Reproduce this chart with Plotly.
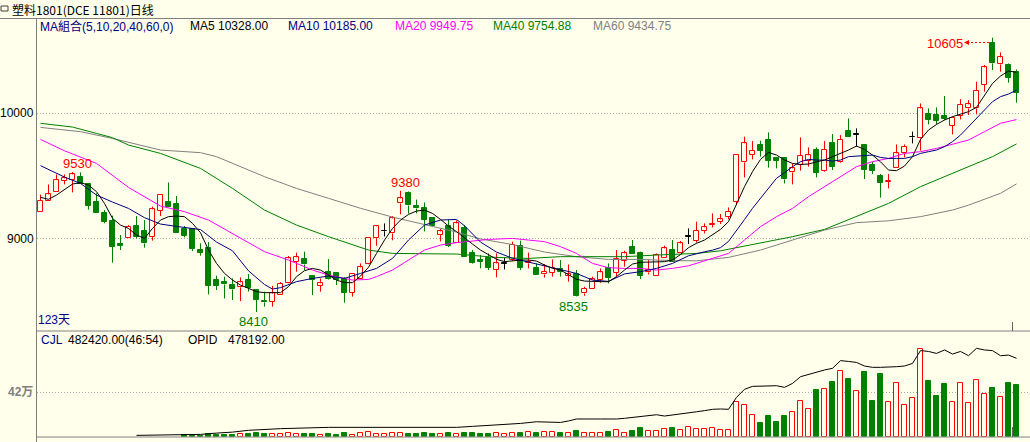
import plotly.graph_objects as go

# ---------------- data ----------------
open_ = [
    9207, 9298, 9367, 9461, 9466, 9493, 9431, 9287, 9199, 9140,
    8951, 8999, 9098, 9058, 9013, 9220, 9287, 9274, 9074, 9074,
    8906, 8925, 8666, 8647, 8626, 8607, 8666, 8586, 8498, 8493,
    8546, 8645, 8813, 8831, 8698, 8621, 8727, 8719, 8674, 8565,
    8674, 8793, 8999, 9055, 9039, 9279, 9359, 9258, 9239, 9159,
    9026, 9098, 8959, 9079, 8879, 8826, 8839, 8746, 8794, 8826,
    8941, 8799, 8759, 8711, 8725, 8751, 8701, 8714, 8559, 8591,
    8666, 8765, 8725, 8821, 8933, 8879, 8727, 8701, 8839, 8906,
    8879, 9013, 8982, 9058, 9109, 9133, 9173, 9293, 9607, 9666,
    9746, 9786, 9645, 9645, 9527, 9586, 9621, 9706, 9541, 9759,
    9613, 9858, 9826, 9746, 9586, 9498, 9450, 9559, 9679, 9807,
    9799, 9991, 9986, 9978, 9901, 9978, 10039, 10039, 10226, 10565,
    10391, 10386, 10333]
high = [
    9350, 9431, 9511, 9511, 9530, 9527, 9431, 9359, 9226, 9181,
    9026, 9106, 9178, 9146, 9253, 9346, 9447, 9338, 9098, 9074,
    8960, 8970, 8701, 8693, 8679, 8687, 8714, 8586, 8573, 8620,
    8650, 8858, 8885, 8893, 8700, 8679, 8834, 8725, 8690, 8711,
    8799, 9000, 9098, 9119, 9178, 9380, 9375, 9310, 9287, 9159,
    9075, 9148, 9143, 9106, 8906, 8866, 8879, 8879, 8847, 8973,
    8981, 8885, 8799, 8794, 8831, 8826, 8791, 8746, 8613, 8693,
    8759, 8799, 8906, 8901, 8986, 8893, 8826, 8879, 8941, 8986,
    8978, 9079, 9133, 9119, 9199, 9194, 9247, 9666, 9813, 9778,
    9781, 9847, 9645, 9645, 9599, 9807, 9727, 9727, 9778, 9834,
    9826, 9959, 9879, 9746, 9613, 9514, 9514, 9751, 9751, 9853,
    10079, 10039, 10047, 10138, 9973, 10114, 10106, 10253, 10386, 10605,
    10487, 10399, 10351]
low = [
    9207, 9298, 9367, 9431, 9367, 9431, 9230, 9199, 9120, 8805,
    8906, 8999, 8999, 8925, 8981, 9178, 9247, 9039, 9007, 8898,
    8861, 8551, 8586, 8519, 8506, 8498, 8573, 8410, 8453, 8453,
    8546, 8640, 8733, 8746, 8546, 8573, 8666, 8626, 8485, 8533,
    8674, 8791, 8940, 9015, 8984, 9192, 9197, 9199, 9055, 9095,
    8975, 8930, 8959, 8853, 8794, 8759, 8746, 8687, 8751, 8818,
    8746, 8759, 8706, 8685, 8693, 8693, 8653, 8535, 8540, 8591,
    8645, 8639, 8693, 8773, 8874, 8674, 8711, 8701, 8839, 8807,
    8879, 8954, 8965, 9039, 9087, 9114, 9151, 9266, 9487, 9631,
    9653, 9565, 9559, 9439, 9431, 9541, 9573, 9487, 9533, 9546,
    9605, 9807, 9733, 9474, 9514, 9325, 9399, 9559, 9647, 9759,
    9701, 9911, 9914, 9946, 9831, 9951, 9986, 9991, 10173, 10346,
    10333, 10245, 10085]
close = [
    9298, 9351, 9466, 9479, 9511, 9431, 9261, 9199, 9133, 8933,
    8938, 9093, 9010, 8959, 9231, 9346, 9247, 9039, 9021, 8914,
    8885, 8621, 8621, 8631, 8591, 8647, 8605, 8506, 8487, 8559,
    8634, 8839, 8847, 8791, 8666, 8639, 8671, 8666, 8565, 8711,
    8767, 8999, 9095, 9055, 9159, 9319, 9263, 9239, 9148, 9095,
    9055, 8940, 9119, 8853, 8799, 8813, 8765, 8799, 8794, 8946,
    8765, 8813, 8706, 8733, 8765, 8733, 8714, 8540, 8594, 8671,
    8727, 8685, 8831, 8879, 8874, 8701, 8746, 8866, 8919, 8807,
    8959, 9013, 9058, 9087, 9114, 9151, 9213, 9666, 9759, 9698,
    9701, 9621, 9621, 9471, 9559, 9658, 9663, 9525, 9706, 9573,
    9786, 9807, 9826, 9546, 9541, 9445, 9455, 9679, 9733, 9807,
    10039, 9946, 9941, 9954, 9965, 10066, 10071, 10178, 10367, 10399,
    10447, 10285, 10165]
volume = [
    0, 0, 0, 0, 0, 0, 0, 0, 0, 0,
    0, 0, 0, 0, 0, 0, 0, 0, 12000, 6000,
    6000, 25000, 12000, 12000, 15000, 22000, 22000, 31000, 22000, 22000,
    22000, 38000, 22000, 22000, 22000, 12000, 22000, 12000, 31000, 12000,
    31000, 44000, 22000, 22000, 31000, 31000, 22000, 22000, 31000, 22000,
    22000, 31000, 22000, 31000, 31000, 22000, 22000, 31000, 22000, 31000,
    31000, 41000, 31000, 41000, 41000, 31000, 31000, 53000, 31000, 31000,
    31000, 44000, 60000, 31000, 53000, 81000, 50000, 50000, 69000, 81000,
    60000, 88000, 69000, 69000, 78000, 60000, 60000, 323000, 294000, 200000,
    128000, 194000, 138000, 194000, 229000, 335000, 260000, 438000, 448000, 517000,
    614000, 542000, 429000, 608000, 335000, 589000, 323000, 504000, 294000, 360000,
    821000, 523000, 382000, 495000, 323000, 504000, 313000, 529000, 398000, 457000,
    370000, 504000, 482420]

ma5 = [
    9328, 9312, 9346, 9391, 9434, 9445, 9426, 9373, 9279, 9159,
    9106, 9079, 9026, 8999, 9079, 9146, 9173, 9178, 9173, 9119,
    9045, 8906, 8799, 8719, 8666, 8626, 8599, 8573, 8565, 8565,
    8565, 8613, 8693, 8741, 8759, 8746, 8706, 8666, 8645, 8645,
    8698, 8768, 8879, 8986, 9079, 9146, 9191, 9218, 9226, 9199,
    9151, 9098, 9053, 9007, 8954, 8906, 8866, 8832, 8813, 8821,
    8826, 8826, 8818, 8786, 8760, 8746, 8706, 8672, 8658, 8653,
    8653, 8653, 8693, 8746, 8794, 8808, 8810, 8813, 8813, 8826,
    8870, 8925, 8960, 8986, 9026, 9071, 9133, 9279, 9413, 9533,
    9631, 9687, 9666, 9626, 9599, 9591, 9594, 9612, 9626, 9653,
    9679, 9706, 9738, 9711, 9666, 9612, 9546, 9541, 9578, 9653,
    9791, 9866, 9911, 9946, 9973, 9994, 10013, 10047, 10138, 10239,
    10298, 10338, 10328]

ma10_day = [0, 3, 5, 7, 9, 11, 13, 15, 17, 19, 20, 22, 24, 26, 28, 29, 30, 32, 34, 36,
            38, 40, 41, 42, 44, 46, 48, 50, 52, 53, 55, 57, 59, 61, 63, 65, 67, 69, 71, 73,
            75, 77, 79, 81, 82, 83, 84, 85, 86, 87, 88, 89, 90, 91, 92, 93, 94, 95, 96, 97,
            98, 99, 100, 101, 102, 103, 104, 105, 106, 107, 108, 109, 110, 111, 112, 113,
            114, 115, 116, 117, 118, 119, 120, 121, 122]
ma10 = [9581, 9490, 9439, 9346, 9290, 9239, 9165, 9114, 9095, 9080, 9070, 8970, 8900, 8740,
        8630, 8594, 8605, 8653, 8679, 8698, 8679, 8719, 8740, 8759, 8839, 8986, 9106, 9146,
        9151, 9100, 8970, 8890, 8840, 8810, 8780, 8755, 8719, 8666, 8655, 8715, 8733, 8759,
        8799, 8860, 8879, 8892, 8905, 8925, 8975, 9060, 9150, 9240, 9320, 9400, 9480, 9525,
        9573, 9613, 9631, 9626, 9626, 9618, 9626, 9653, 9658, 9666, 9666, 9647, 9639, 9639,
        9639, 9653, 9679, 9693, 9706, 9733, 9773, 9826, 9893, 9959, 10026, 10093, 10133,
        10154, 10185]

ma20_day = [0, 3, 7, 11, 15, 18, 21, 24, 28, 31, 34, 36, 39, 41, 42, 44, 46, 48, 50, 52,
            56, 59, 61, 63, 65, 67, 69, 71, 73, 75, 77, 79, 81, 84, 86, 88, 90, 92, 94, 96,
            98, 100, 102, 104, 106, 108, 110, 112, 114, 116, 118, 120, 122]
ma20 = [9791, 9700, 9599, 9407, 9258, 9213, 9146, 9039, 8893, 8826, 8746, 8706, 8666, 8671,
        8693, 8746, 8826, 8906, 8946, 8965, 8991, 8999, 8986, 8973, 8933, 8879, 8799, 8765,
        8759, 8759, 8746, 8759, 8780, 8840, 8879, 8986, 9093, 9173, 9239, 9333, 9413, 9493,
        9573, 9613, 9639, 9679, 9693, 9719, 9754, 9786, 9853, 9920, 9950]

ma40_day = [0, 4, 7, 9, 11, 15, 20, 24, 28, 32, 36, 41, 44, 48, 52, 57, 61, 65, 69, 73,
            77, 82, 85, 90, 94, 98, 102, 104, 106, 110, 114, 117, 119, 122]
ma40 = [9920, 9890, 9839, 9805, 9746, 9679, 9559, 9399, 9226, 9106, 9013, 8906, 8879, 8874,
        8874, 8847, 8839, 8853, 8853, 8853, 8866, 8879, 8900, 8964, 9013, 9071, 9173, 9226,
        9279, 9413, 9519, 9599, 9653, 9755]

ma60_day = [0, 5, 9, 15, 20, 22, 28, 32, 36, 40, 44, 48, 52, 55, 59, 63, 67, 71, 75, 79,
            82, 86, 90, 94, 98, 102, 106, 110, 114, 116, 118, 120, 122]
ma60 = [9887, 9853, 9799, 9706, 9685, 9653, 9493, 9399, 9320, 9240, 9170, 9110, 9050, 8995,
        8950, 8890, 8853, 8831, 8831, 8821, 8820, 8847, 8906, 8986, 9066, 9125, 9140, 9173,
        9226, 9265, 9310, 9360, 9435]

opid_day = [12, 17, 20, 22, 24, 26, 28, 30, 36, 45, 52, 54, 57, 59, 60, 62, 64, 65, 66, 67,
            70, 71, 72, 73, 75, 76, 77, 78, 79, 80, 81, 82, 83, 84, 85, 86, 87, 88, 89, 90,
            91, 92, 93, 94, 95, 96, 97, 98, 99, 100, 101, 102, 103, 104, 105, 106, 107, 108,
            109, 110, 111, 112, 113, 114, 115, 116, 117, 118, 119, 120, 121, 122]
opid = [8100, 10000, 14000, 22000, 28000, 39000, 45000, 49000, 57000, 57000,
        57000, 63000, 71000, 77000, 81000, 91000, 91000, 87000, 96000, 108000,
        108000, 106000, 108000, 112000, 122000, 130000, 134000, 126000, 132000, 136000,
        144000, 152000, 159000, 167000, 169000, 167000, 240000, 289000, 307000, 307000,
        307000, 311000, 301000, 325000, 366000, 380000, 390000, 407000, 417000, 464000,
        459000, 453000, 431000, 423000, 423000, 423000, 427000, 431000, 447000, 525000,
        520000, 508000, 529000, 504000, 520000, 494000, 539000, 529000, 525000, 494000,
        498000, 478192]

# ---------------- styling ----------------
BG = '#FFFFEB'
RED = '#FF0000'
GREEN = '#008000'
NAVY = '#000080'
MAG = '#FF00FF'
GRAY = '#808080'
W, H = 1030, 442
FONT = 'Liberation Sans, Noto Sans CJK SC, sans-serif'


def PX(x):
    return x / W


def PY(y):
    return 1 - y / H


days = list(range(len(close)))
up = [i for i in days if close[i] > open_[i]]
dn = [i for i in days if close[i] < open_[i]]
dj = [i for i in days if close[i] == open_[i]]

fig = go.Figure()


def wick_trace(sel, color):
    xs, ys = [], []
    for i in sel:
        top = max(open_[i], close[i])
        bot = min(open_[i], close[i])
        if high[i] > top:
            xs += [i, i, None]
            ys += [top, high[i], None]
        if low[i] < bot:
            xs += [i, i, None]
            ys += [bot, low[i], None]
    return go.Scatter(x=xs, y=ys, mode='lines', line=dict(color=color, width=1),
                      hoverinfo='skip', xaxis='x', yaxis='y')


def body_trace(sel, fill, line):
    return go.Bar(x=sel, base=[min(open_[i], close[i]) for i in sel],
                  y=[max(abs(close[i] - open_[i]), 6) for i in sel],
                  width=0.72, marker=dict(color=fill, line=dict(color=line, width=1)),
                  hoverinfo='skip', xaxis='x', yaxis='y')


fig.add_trace(body_trace(up, BG, RED))
fig.add_trace(body_trace(dn, GREEN, GREEN))
fig.add_trace(body_trace(dj, 'black', 'black'))
fig.add_trace(wick_trace(up, RED))
fig.add_trace(wick_trace(dn, GREEN))
fig.add_trace(wick_trace(dj, 'black'))

for xs, ys, col in [(ma60_day, ma60, GRAY), (ma40_day, ma40, GREEN), (ma20_day, ma20, MAG),
                    (ma10_day, ma10, NAVY), (days, ma5, 'black')]:
    fig.add_trace(go.Scatter(x=xs, y=ys, mode='lines', line=dict(color=col, width=1),
                             hoverinfo='skip', xaxis='x', yaxis='y'))

vup = [i for i in days if volume[i] > 0 and close[i] >= open_[i]]
vdn = [i for i in days if volume[i] > 0 and close[i] < open_[i]]
fig.add_trace(go.Bar(x=vup, y=[volume[i] for i in vup], width=0.72,
                     marker=dict(color=BG, line=dict(color=RED, width=1)),
                     hoverinfo='skip', xaxis='x', yaxis='y2'))
fig.add_trace(go.Bar(x=vdn, y=[volume[i] for i in vdn], width=0.72,
                     marker=dict(color=GREEN, line=dict(color=GREEN, width=1)),
                     hoverinfo='skip', xaxis='x', yaxis='y2'))
fig.add_trace(go.Scatter(x=opid_day, y=opid, mode='lines', line=dict(color='black', width=1),
                         hoverinfo='skip', xaxis='x', yaxis='y3'))

grid = dict(showgrid=True, gridcolor='#A8A8A8', griddash='1px,2px', gridwidth=1,
            zeroline=False, showline=False, ticks='', showticklabels=False, fixedrange=True)

fig.update_layout(
    width=W, height=H, margin=dict(l=0, r=0, t=0, b=0),
    paper_bgcolor=BG, plot_bgcolor=BG, showlegend=False,
    barmode='overlay', bargap=0,
    xaxis=dict(domain=[PX(37), 1], range=[-0.4375, 123.6875], visible=False, fixedrange=True),
    yaxis=dict(domain=[PY(331), PY(18)], range=[8258.4, 10762.4], tickvals=[9000, 10000], **grid),
    yaxis2=dict(domain=[PY(436.7), PY(331)], range=[0, 993157], tickvals=[420000], anchor='x', **grid),
    yaxis3=dict(overlaying='y2', range=[0, 644665], visible=False, anchor='x', fixedrange=True),
)

# frame lines
shapes = []


def hline(y, x0, x1, color=GRAY):
    shapes.append(dict(type='line', xref='paper', yref='paper', x0=PX(x0), x1=PX(x1),
                       y0=PY(y), y1=PY(y), line=dict(color=color, width=1)))


def vline(x, y0, y1, color=GRAY):
    shapes.append(dict(type='line', xref='paper', yref='paper', x0=PX(x), x1=PX(x),
                       y0=PY(y0), y1=PY(y1), line=dict(color=color, width=1)))


hline(18.5, 0, W)
vline(36.5, 18, H)
hline(331, 36, W)
hline(437, 36, W)
vline(1012.5, 322, 331, '#606060')
vline(1012.5, 427, 437, '#606060')
# title icon
shapes.append(dict(type='rect', xref='paper', yref='paper', x0=PX(1), x1=PX(8),
                   y0=PY(11), y1=PY(6), line=dict(color='#404040', width=1), fillcolor=BG))
# dotted pointer from 10605 label to its candle
shapes.append(dict(type='line', xref='paper', yref='paper', x0=PX(967), x1=PX(991),
                   y0=PY(42.5), y1=PY(42.5), line=dict(color=RED, width=1, dash='2px,2px')))
fig.update_layout(shapes=shapes)

ann = []


def txt(s, x, y, color='black', size=12, anchor='left', bold=False, family=FONT):
    if bold:
        s = '<b>' + s + '</b>'
    ann.append(dict(text=s, x=PX(x), y=PY(y), xref='paper', yref='paper', xanchor=anchor,
                    yanchor='middle', showarrow=False, borderpad=0,
                    font=dict(color=color, size=size, family=family)))


txt('塑料1801(DCE 11801)日线', 11, 9, 'black', 12, family='Noto Sans CJK SC, sans-serif')
txt('MA組合(5,10,20,40,60,0)', 39, 26, NAVY)
txt('MA5 10328.00', 189, 26, 'black')
txt('MA10 10185.00', 287, 26, NAVY)
txt('MA20 9949.75', 394, 26, MAG)
txt('MA40 9754.88', 492, 26, GREEN)
txt('MA60 9434.75', 592, 26, GRAY)
txt('10000', 35, 113.5, 'black', 12, 'right')
txt('9000', 35, 238.5, 'black', 12, 'right')
txt('9530', 77, 163.5, RED, 13, 'center')
txt('9380', 405.5, 182.5, RED, 13, 'center')
txt('8410', 253, 321, GREEN, 13, 'center')
txt('8535', 573.5, 306.5, GREEN, 13, 'center')
txt('10605', 944.5, 43.5, RED, 13, 'center')
txt('123天', 37, 320, NAVY, 12)
txt('CJL', 40, 340, NAVY, 12)
txt('482420.00(46:54)', 67, 340, 'black', 12)
txt('OPID', 187, 340, 'black', 12)
txt('478192.00', 227, 340, 'black', 12)
txt('42万', 34, 392, GRAY, 12, 'right', bold=True)
ann.append(dict(text='', x=PX(964), y=PY(42.5), xref='paper', yref='paper', showarrow=True,
                ax=7, ay=0, arrowhead=2, arrowsize=1, arrowwidth=1, arrowcolor=RED))
fig.update_layout(annotations=ann)

fig.write_html('out.html', config={'displayModeBar': False},
               post_script="document.body.style.margin='0';document.body.style.padding='0';"
                           "document.body.style.overflow='hidden';")
